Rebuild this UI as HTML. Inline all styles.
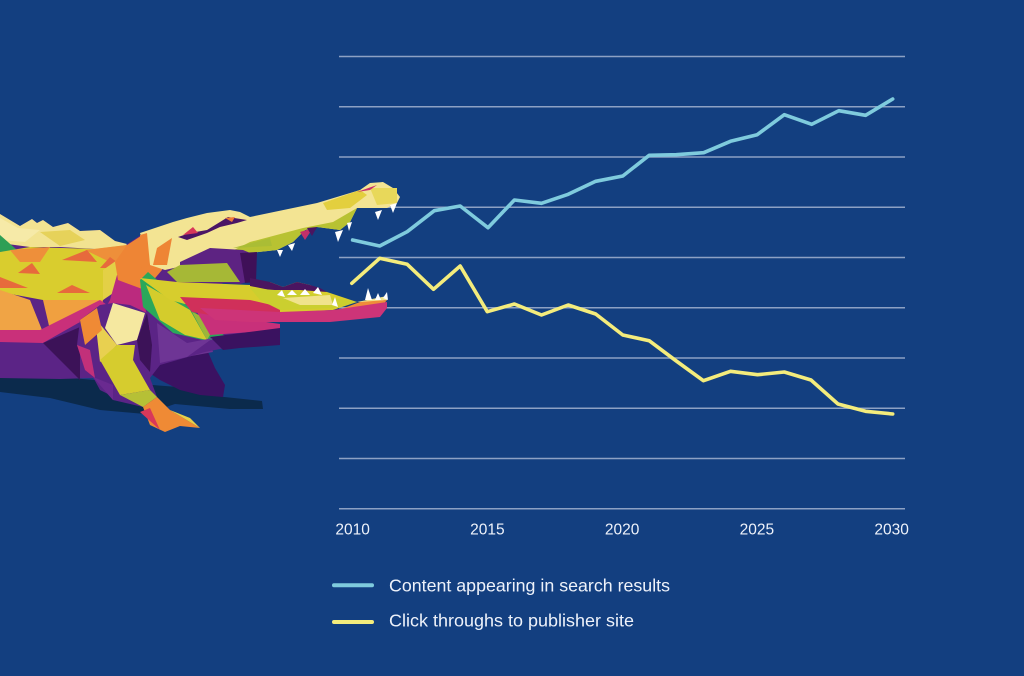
<!DOCTYPE html>
<html><head><meta charset="utf-8"><style>
html,body{margin:0;padding:0;background:#133f80;}
body{width:1024px;height:676px;overflow:hidden;}
svg{display:block;}
text{font-family:"Liberation Sans",sans-serif;fill:#eef2fa;}
</style></head><body>
<svg width="1024" height="676" viewBox="0 0 1024 676" xmlns="http://www.w3.org/2000/svg">
<rect width="1024" height="676" fill="#133f80"/>
<!-- gridlines -->
<g stroke="#8da1c4" stroke-width="1.5">
<line x1="339" y1="56.5" x2="905" y2="56.5"/>
<line x1="339" y1="106.8" x2="905" y2="106.8"/>
<line x1="339" y1="157" x2="905" y2="157"/>
<line x1="339" y1="207.3" x2="905" y2="207.3"/>
<line x1="339" y1="257.5" x2="905" y2="257.5"/>
<line x1="339" y1="307.8" x2="905" y2="307.8"/>
<line x1="339" y1="358" x2="905" y2="358"/>
<line x1="339" y1="408.3" x2="905" y2="408.3"/>
<line x1="339" y1="458.5" x2="905" y2="458.5"/>
<line x1="339" y1="508.8" x2="905" y2="508.8"/>
</g>
<!-- axis labels -->
<g font-size="15.5" text-anchor="middle">
<text x="352.6" y="534.5">2010</text>
<text x="487.4" y="534.5">2015</text>
<text x="622.1" y="534.5">2020</text>
<text x="756.9" y="534.5">2025</text>
<text x="891.6" y="534.5">2030</text>
</g>
<!-- crocodile -->
<g stroke-linejoin="round">
<!-- shadow -->
<polygon fill="#0b2a4c" points="0,377 60,377 140,384 190,388 215,396 262,401 263,409 230,409 175,404 145,414 100,410 50,398 0,392"/>
<!-- back leg -->
<polygon fill="#3b1262" points="145,335 205,345 215,368 225,385 223,397 200,395 180,390 160,380 148,372"/>
<polygon fill="#6b3290" points="150,328 207,332 213,352 170,360"/>
<!-- body base -->
<polygon fill="#5b2486" points="0,214 20,226 32,219 37,223 43,220 53,227 68,223 80,231 100,230 115,241 127,244 147,231 165,235 200,270 250,300 250,330 240,345 205,352 160,365 150,378 157,397 143,407 113,400 93,378 60,379 0,378"/>
<!-- body facets -->
<polygon fill="#f2e391" points="0,214 20,226 32,219 37,223 43,220 53,227 68,223 80,231 100,230 115,241 127,244 120,252 95,249 60,247 30,247 0,243"/>
<polygon fill="#f6eaa8" points="0,218 18,228 40,230 25,242 0,240"/>
<polygon fill="#e6d25a" points="40,232 70,230 85,240 60,246"/>
<polygon fill="#2e9f55" points="0,235 17,250 0,252"/>
<polygon fill="#d9cd2e" points="0,252 30,247 95,249 127,245 135,262 120,285 103,300 43,300 0,292"/>
<polygon fill="#ee8f3a" points="10,250 50,247 40,262 20,262"/>
<polygon fill="#ee8f3a" points="85,250 127,245 135,262 110,262"/>
<polygon fill="#e76a3c" points="18,273 40,274 32,263"/>
<polygon fill="#e76a3c" points="0,277 28,288 0,288"/>
<polygon fill="#e76a3c" points="57,293 90,293 72,285"/>
<polygon fill="#e76a3c" points="100,268 125,268 110,257"/>
<polygon fill="#e76a3c" points="62,260 97,262 87,250"/>
<polygon fill="#f0a445" points="0,290 30,300 42,330 0,335"/>
<polygon fill="#f0a040" points="43,300 103,300 100,317 50,330"/>
<polygon fill="#e3d046" points="103,270 120,258 125,285 103,300"/>
<polygon fill="#c9307a" points="0,330 40,330 100,300 110,307 80,322 43,343 0,342"/>
<polygon fill="#bb2a7e" points="117,275 140,283 150,330 120,335 100,318 110,300"/>
<polygon fill="#ee8535" points="127,245 147,232 165,236 162,270 145,290 118,280 115,262"/>
<polygon fill="#3c1258" points="43,343 80,327 80,380"/>
<!-- neck -->
<polygon fill="#2aa85a" points="140,280 148,272 192,310 225,336 207,341 173,333 143,307"/>
<polygon fill="#d4cc2c" points="146,285 190,310 207,340 185,335 160,320"/>
<polygon fill="#9cb53a" points="192,312 207,340 217,323"/>
<polygon fill="#c8307a" points="197,312 280,324 280,330 210,335"/>
<polygon fill="#3a1260" points="210,337 280,328 280,345 240,348 223,350"/>
<polygon fill="#6e3595" points="157,323 187,343 213,338 187,357 160,363"/>
<!-- front leg -->
<polygon fill="#5b2486" points="80,320 100,305 113,303 130,305 147,313 140,335 133,360 145,380 157,397 143,407 120,400 100,390 93,377 83,360 77,345"/>
<polygon fill="#f5e8a0" points="113,303 145,313 137,340 117,345 105,328"/>
<polygon fill="#e8d050" points="95,318 117,345 100,362"/>
<polygon fill="#d6cc2e" points="100,360 117,345 135,345 133,360 150,390 120,395"/>
<polygon fill="#b6c036" points="120,395 150,390 157,397 143,407"/>
<polygon fill="#ef8a35" points="80,320 97,308 102,330 85,345"/>
<polygon fill="#c2307a" points="77,345 90,350 95,378 85,370"/>
<polygon fill="#6a2a90" points="93,377 113,385 113,400"/>
<polygon fill="#3c1258" points="137,340 147,313 152,345 150,372 140,360"/>
<polygon fill="#ef8a35" points="143,407 157,397 170,410 200,428 180,426 165,432 150,425"/>
<polygon fill="#d8385a" points="140,412 150,408 160,430"/>
<polygon fill="#e8d048" points="170,410 190,418 200,428"/>
<!-- head base -->
<polygon fill="#f3e493" points="140,233 173,222 187,218 207,213 230,210 240,212 250,217 317,203 360,190 370,183 383,182 393,188 400,197 397,203 387,208 367,208 357,208 350,222 340,230 317,227 305,230 293,242 277,250 250,253 230,258 200,262 165,270 150,265"/>
<polygon fill="#e3cf3e" points="323,203 360,190 367,195 350,208 327,210"/>
<polygon fill="#e8d85a" points="370,188 397,188 397,203 377,205"/>
<polygon fill="#c8306a" points="357,192 377,185 370,190"/>
<polygon fill="#b8c232" points="230,252 250,242 303,228 333,222 357,208 350,222 340,230 317,227 305,230 293,242 277,250 250,253"/>
<polygon fill="#c2306a" points="300,232 313,228 305,240"/>
<polygon fill="#4a1560" points="307,228 317,227 312,236"/>
<polygon fill="#4a1565" points="178,237 190,233 207,230 220,222 228,217 247,220 237,223 220,227 207,233 187,240"/>
<polygon fill="#ee7a3a" points="225,218 235,217 232,222"/>
<polygon fill="#d8385a" points="183,235 193,227 198,233"/>
<polygon fill="#ee8535" points="140,235 147,233 150,265 140,268"/>
<polygon fill="#ee8535" points="157,248 172,238 167,265 153,265"/>
<polygon fill="#aabd35" points="233,248 270,238 272,246"/>
<!-- mouth interior -->
<polygon fill="#5d2382" points="180,262 210,248 243,250 255,255 253,280 240,284 200,282 180,275"/>
<polygon fill="#3f1058" points="240,253 257,252 256,282 245,283"/>
<polygon fill="#a6b836" points="167,272 180,265 227,263 240,282 177,282"/>
<!-- lower jaw -->
<polygon fill="#d7cd2d" points="140,278 177,282 250,285 270,282 283,287 297,282 310,285 327,292 357,302 333,310 280,313 200,308 170,300"/>
<polygon fill="#4a1560" points="250,278 270,282 283,287 297,282 310,285 320,288 327,292 300,290 270,290 250,286"/>
<polygon fill="#d0305a" points="180,297 250,300 280,307 280,318 227,318 192,312"/>
<polygon fill="#cbcf2f" points="250,288 300,292 333,298 357,302 333,308 280,310 260,300"/>
<polygon fill="#f0e38c" points="283,298 330,295 333,305 300,305"/>
<polygon fill="#f0e38c" points="357,302 387,296 387,300 370,302"/>
<polygon fill="#ef8c3a" points="360,302 387,300 377,312 333,312"/>
<polygon fill="#cd3478" points="200,308 280,312 333,310 387,302 387,308 380,317 330,322 250,322 215,320"/>
<!-- teeth -->
<g fill="#ffffff">
<polygon points="277,250 283,250 280,257"/>
<polygon points="288,245 295,243 292,251"/>
<polygon points="335,232 343,230 338,242"/>
<polygon points="347,223 352,222 349,231"/>
<polygon points="375,212 382,210 378,220"/>
<polygon points="390,205 397,203 393,213"/>
<polygon points="277,295 282,290 285,297"/>
<polygon points="287,295 292,290 297,295"/>
<polygon points="300,295 305,289 310,295"/>
<polygon points="313,293 318,287 322,295"/>
<polygon points="332,305 335,297 338,307"/>
<polygon points="365,300 368,288 372,300"/>
<polygon points="375,300 378,293 381,300"/>
<polygon points="383,298 387,292 388,300"/>
</g>
</g>
<!-- data lines -->
<polyline fill="none" stroke="#7fcbdd" stroke-width="3.6" stroke-linejoin="round" stroke-linecap="round" points="352.6,240 379.7,246 407.2,231.7 434.3,210.7 460.2,206 488,227.7 514.4,200 541.5,203.3 568.2,194.3 595.7,181.3 622.8,176 649.2,155.3 676.3,154.7 703.7,152.7 730.5,141.3 757.2,134.7 784.3,114.7 811.7,124.3 838.8,110.7 865.6,115.3 892.7,99"/>
<polyline fill="none" stroke="#f4ec7c" stroke-width="3.6" stroke-linejoin="round" stroke-linecap="round" points="351.8,283.3 379.7,258.3 407.2,264.3 433.5,289.3 460.2,266 487.3,311.7 514.4,304 541.5,315 568.2,305 595.7,314 622.8,335 649.2,340.7 676.3,361 703.4,380.7 730.5,371.3 757.5,374.7 784.3,372 811,380 838,404 865.6,411.3 892.7,414"/>
<!-- legend -->
<line x1="334" y1="585.3" x2="372" y2="585.3" stroke="#7fcbdd" stroke-width="4" stroke-linecap="round"/>
<line x1="334" y1="622" x2="372" y2="622" stroke="#f4ec7c" stroke-width="4" stroke-linecap="round"/>
<text x="389" y="591.7" font-size="17.5" textLength="281" lengthAdjust="spacingAndGlyphs">Content appearing in search results</text>
<text x="389" y="626.5" font-size="17.5" textLength="245" lengthAdjust="spacingAndGlyphs">Click throughs to publisher site</text>
</svg>
</body></html>
